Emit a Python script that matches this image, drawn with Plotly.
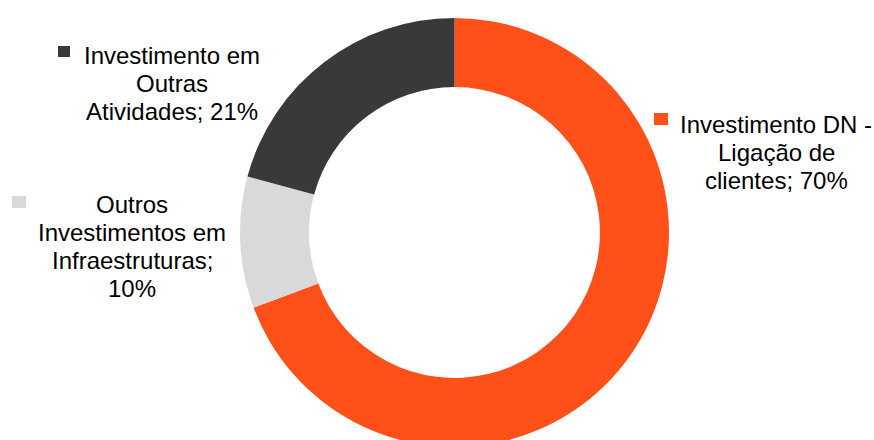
import textwrap
import plotly.graph_objects as go

# Investment breakdown (share of total, %)
categories = [
    "Investimento DN - Ligação de clientes",
    "Outros Investimentos em Infraestruturas",
    "Investimento em Outras Atividades",
]
values = [70, 10, 21]
colors = ["#FF5019", "#D9D9D9", "#393939"]

W, H = 874, 447
FONT = dict(family="Liberation Sans, Arial, sans-serif", size=24, color="#000000")
LINE = 28  # px between baselines

# label layout: wrap width, centre x, first baseline y, key square (x0, y0, size w, h)
label_layout = [
    dict(wrap=17, cx=776, base=132, sq=(654, 113, 14, 12)),
    dict(wrap=16, cx=132, base=212, sq=(12, 196, 14, 12)),
    dict(wrap=15, cx=172, base=63, sq=(58, 46, 12, 11)),
]


def px(x):
    return x / W


def py(y):
    return 1 - y / H


fig = go.Figure(
    go.Pie(
        values=values,
        labels=categories,
        marker=dict(colors=colors, line=dict(width=0)),
        hole=0.678,
        sort=False,
        direction="clockwise",
        rotation=0,
        textinfo="none",
        hoverinfo="skip",
        domain=dict(x=[px(240), px(669)], y=[0, py(18)]),
    )
)

annotations = []
shapes = []
for name, val, col, lay in zip(categories, values, colors, label_layout):
    text = f"{name}; {val}%"
    for i, line in enumerate(textwrap.wrap(text, lay["wrap"])):
        b = lay["base"] + i * LINE
        annotations.append(
            dict(
                x=px(lay["cx"]), y=py(b - 7.5), xref="paper", yref="paper",
                text=line, showarrow=False, xanchor="center", yanchor="middle",
                font=FONT,
            )
        )
    x0, y0, w, h = lay["sq"]
    shapes.append(
        dict(
            type="rect", xref="paper", yref="paper",
            x0=px(x0), x1=px(x0 + w), y0=py(y0 + h), y1=py(y0),
            fillcolor=col, line=dict(width=0),
        )
    )

fig.update_layout(
    width=W, height=H,
    margin=dict(l=0, r=0, t=0, b=0),
    paper_bgcolor="white",
    plot_bgcolor="white",
    showlegend=False,
    annotations=annotations,
    shapes=shapes,
)

fig.write_html(
    "out.html",
    post_script=(
        "document.documentElement.style.overflow='hidden';"
        "document.body.style.overflow='hidden';"
        "document.body.style.margin='0';"
    ),
)
